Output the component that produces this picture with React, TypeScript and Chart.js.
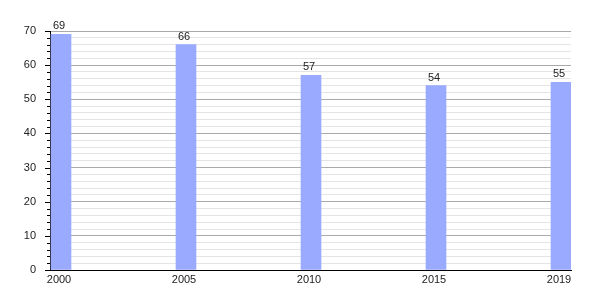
import React, { useEffect, useRef } from "react";
import { Chart, registerables } from "chart.js";

Chart.register(...registerables);

const years = ["2000", "2005", "2010", "2015", "2019"];
const values = [69, 66, 57, 54, 55];
const yMin = 0;
const yMax = 70;
const yStep = 2;
const yMajorStep = 10;

const FONT = "'Liberation Sans', Arial, sans-serif";

const barLabelsPlugin = {
  id: "barLabels",
  afterDatasetsDraw(chart: any) {
    const ctx = chart.ctx;
    const meta = chart.getDatasetMeta(0);
    ctx.save();
    ctx.font = `11px ${FONT}`;
    ctx.fillStyle = "#222";
    ctx.textAlign = "center";
    ctx.textBaseline = "alphabetic";
    meta.data.forEach((bar: any, i: number) => {
      ctx.fillText(String(values[i]), bar.x - 2, bar.y - 5);
    });
    ctx.restore();
  },
};

const yTickMarksPlugin = {
  id: "yTickMarks",
  afterDraw(chart: any) {
    const ctx = chart.ctx;
    const y = chart.scales.y;
    const left = chart.chartArea.left;
    ctx.save();
    ctx.strokeStyle = "#000";
    ctx.lineWidth = 1;
    y.ticks.forEach((t: any) => {
      const py = Math.round(y.getPixelForValue(t.value)) + 0.5;
      const len = t.value % yMajorStep === 0 ? 5 : 3;
      ctx.beginPath();
      ctx.moveTo(left - len, py);
      ctx.lineTo(left, py);
      ctx.stroke();
    });
    ctx.restore();
  },
};

export default function App() {
  const ref = useRef<HTMLCanvasElement | null>(null);

  useEffect(() => {
    document.body.style.margin = "0";
    const chart = new Chart(ref.current as HTMLCanvasElement, {
      type: "bar",
      data: {
        datasets: [
          {
            data: values.map((v, i) => ({ x: i, y: v })),
            backgroundColor: "#99aaff",
            borderWidth: 0,
            barThickness: 20,
          },
        ],
      },
      options: {
        animation: false,
        responsive: false,
        maintainAspectRatio: false,
        layout: { padding: { left: 0, right: 29, top: 31, bottom: 0 } },
        plugins: {
          legend: { display: false },
          tooltip: { enabled: false },
        },
        scales: {
          x: {
            type: "linear",
            offset: false,
            min: -0.088,
            max: 4.08,
            grid: { display: false, drawTicks: false, offset: false },
            border: { display: true, color: "#000", width: 1 },
            afterFit: (s: any) => {
              s.height = 30;
            },
            afterBuildTicks: (s: any) => {
              s.ticks = years.map((_, i) => ({ value: i }));
            },
            ticks: {
              autoSkip: false,
              maxRotation: 0,
              padding: 3,
              labelOffset: -2,
              color: "#222",
              font: { family: FONT, size: 11 },
              callback: (v: any) => years[v] ?? "",
            },
          },
          y: {
            min: yMin,
            max: yMax,
            grid: {
              drawTicks: false,
              color: (c: any) =>
                c.tick && c.tick.value % yMajorStep === 0 ? "#aaaaaa" : "#e4e4e4",
            },
            border: { display: true, color: "#000", width: 1 },
            afterFit: (s: any) => {
              s.width = 50;
            },
            ticks: {
              stepSize: yStep,
              autoSkip: false,
              padding: 14,
              color: "#222",
              font: { family: FONT, size: 11 },
              callback: (v: any) => (v % yMajorStep === 0 ? String(v) : ""),
            },
          },
        },
      },
      plugins: [barLabelsPlugin, yTickMarksPlugin],
    });
    return () => chart.destroy();
  }, []);

  return (
    <div style={{ position: "absolute", left: 0, top: 0, width: 600, height: 300 }}>
      <canvas ref={ref} width={600} height={300} />
    </div>
  );
}
